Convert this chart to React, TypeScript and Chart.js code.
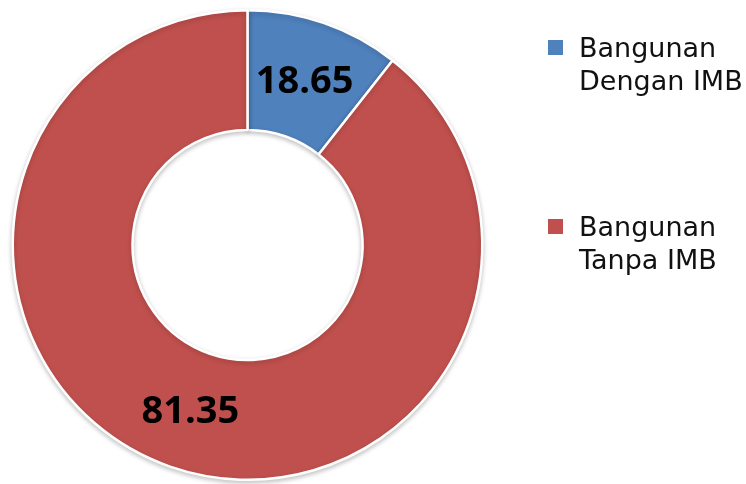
import React, { useEffect, useRef } from "react";
import { Chart, registerables } from "chart.js";

Chart.register(...registerables);

const categories = ["Bangunan Dengan IMB", "Bangunan Tanpa IMB"];
const legendLines = [["Bangunan", "Dengan IMB"], ["Bangunan", "Tanpa IMB"]];
// printed data labels
const labelValues = [18.65, 81.35];
// slice sizes as drawn in the picture (share of the ring, %)
const sliceShares = [10.6, 89.4];
const colors = ["#4F81BD", "#C0504D"];

const labelPlugin = {
  id: "sliceLabels",
  beforeDatasetsDraw(chart: any) {
    const ctx = chart.ctx;
    ctx.save();
    ctx.shadowColor = "rgba(0,0,0,0.22)";
    ctx.shadowBlur = 5;
    ctx.shadowOffsetY = 2;
  },
  afterDatasetsDraw(chart: any) {
    const ctx = chart.ctx;
    ctx.restore();
    const meta = chart.getDatasetMeta(0);
    ctx.save();
    ctx.font = "bold 38px 'Open Sans'";
    ctx.fillStyle = "#000";
    ctx.textAlign = "center";
    ctx.textBaseline = "middle";
    meta.data.forEach((arc: any, i: number) => {
      const p = arc.getProps(["x", "y", "startAngle", "endAngle", "innerRadius", "outerRadius"], true);
      const a = (p.startAngle + p.endAngle) / 2;
      const r = (p.innerRadius + p.outerRadius) / 2;
      ctx.fillText(labelValues[i].toFixed(2), p.x + Math.cos(a) * r, p.y + Math.sin(a) * r + 2);
    });
    ctx.restore();
  },
  afterDraw(chart: any) {
    const ctx = chart.ctx;
    ctx.save();
    ctx.font = "27px 'DejaVu Sans'";
    ctx.textBaseline = "alphabetic";
    ctx.textAlign = "left";
    const tops = [40, 219];
    categories.forEach((_, i) => {
      const y0 = tops[i];
      ctx.fillStyle = colors[i];
      ctx.fillRect(548, y0, 15, 15);
      ctx.fillStyle = "#111";
      ctx.fillText(legendLines[i][0], 579, y0 + 17);
      ctx.fillText(legendLines[i][1], 579, y0 + 50);
    });
    ctx.restore();
  },
};

export default function App() {
  const ref = useRef<HTMLCanvasElement>(null);
  useEffect(() => {
    document.body.style.margin = "0";
    const chart = new Chart(ref.current!, {
      type: "doughnut",
      data: {
        labels: categories,
        datasets: [
          {
            data: sliceShares,
            backgroundColor: colors,
            borderColor: "#ffffff",
            borderWidth: 2.5,
          },
        ],
      },
      options: {
        responsive: false,
        animation: false,
        cutout: "49%",
        layout: { padding: { left: 11.5, right: 262.5, top: 9, bottom: 3 } },
        plugins: { legend: { display: false }, tooltip: { enabled: false } },
      },
      plugins: [labelPlugin],
    });
    return () => chart.destroy();
  }, []);
  return (
    <div style={{ position: "absolute", left: 0, top: 0, width: 746, height: 484, background: "#fff" }}>
      <canvas ref={ref} width={746} height={484} />
    </div>
  );
}
